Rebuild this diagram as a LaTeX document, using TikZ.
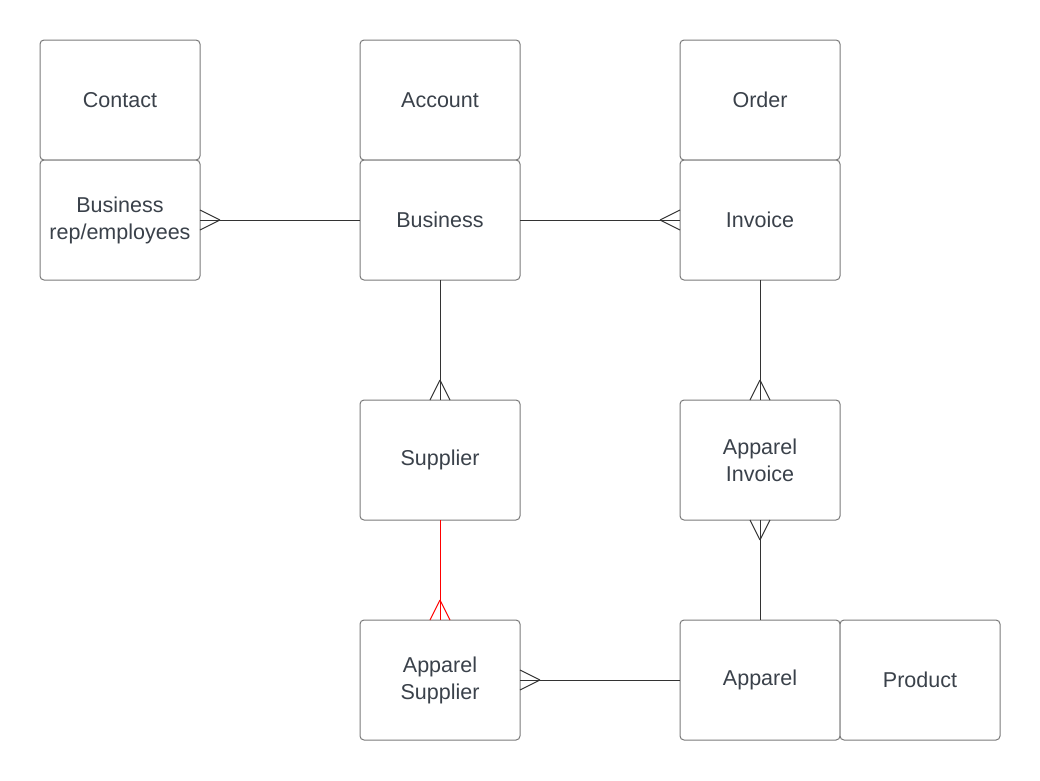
\documentclass[tikz,border=0pt]{standalone}
\usepackage{fontspec}
\setmainfont{Liberation Sans}
\usepackage{tikz}
\usetikzlibrary{positioning,decorations.markings}
\definecolor{boxline}{HTML}{7A7A7A}
\definecolor{relline}{HTML}{333333}
\definecolor{labeltext}{HTML}{3A414A}
\tikzset{
  entity/.style={draw=boxline,line width=1pt,rounded corners=4pt,fill=white,
    minimum width=160pt,minimum height=120pt,outer sep=0pt,align=center,
    text=labeltext,font=\fontsize{21.5}{27}\selectfont},
  relation/.style={draw=relline,line width=1pt},
  manyend/.style={
    decoration={ markings,
      mark=at position 1 with {\draw (-20pt,0pt) -- (0pt,10pt) (-20pt,0pt) -- (0pt,-10pt);}
    },
    postaction={decorate}
  }
}
\begin{document}
\begin{tikzpicture}[x=1pt,y=-1pt]
  \useasboundingbox (0,0) rectangle (1040,780);
  \node[entity] (contact) at (120,100) {Contact};
  \node[entity] (account) at (440,100) {Account};
  \node[entity] (order) at (760,100) {Order};
  \node[entity] (rep) [below=0pt of contact] {Business\\rep/employees};
  \node[entity] (business) [below=0pt of account] {Business};
  \node[entity] (invoice) [below=0pt of order] {Invoice};
  \node[entity] (supplier) [below=120pt of business] {Supplier};
  \node[entity] (appinvoice) [below=120pt of invoice] {Apparel\\Invoice};
  \node[entity] (appsupplier) [below=100pt of supplier] {Apparel\\Supplier};
  \node[entity] (apparel) [below=100pt of appinvoice] {Apparel};
  \node[entity] (product) [right=0pt of apparel] {Product};
  % relations, crow's foot at the "many" end
  \draw[relation,manyend] (business.west) -- (rep.east);
  \draw[relation,manyend] (business.east) -- (invoice.west);
  \draw[relation,manyend] (business.south) -- (supplier.north);
  \draw[relation,manyend] (invoice.south) -- (appinvoice.north);
  \draw[relation,manyend,draw=red] (supplier.south) -- (appsupplier.north);
  \draw[relation,manyend] (apparel.north) -- (appinvoice.south);
  \draw[relation,manyend] (apparel.west) -- (appsupplier.east);
\end{tikzpicture}
\end{document}
